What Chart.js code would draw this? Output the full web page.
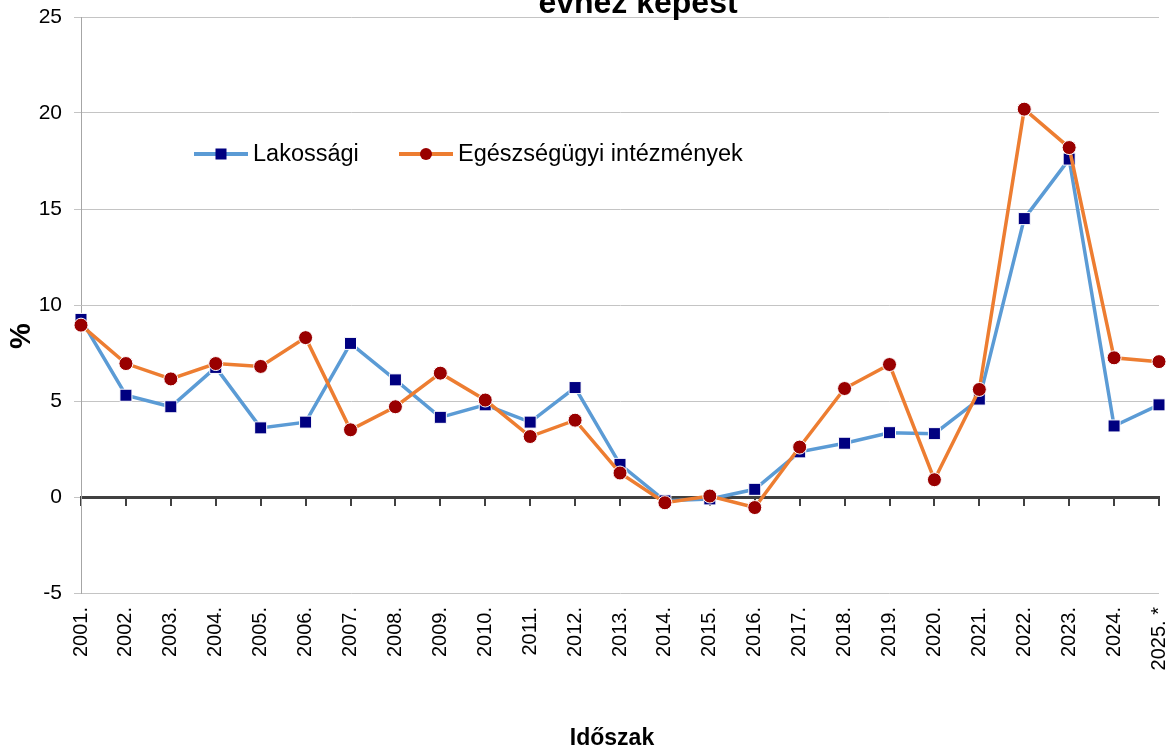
<!DOCTYPE html>
<html>
<head>
<meta charset="utf-8">
<script src="https://cdn.jsdelivr.net/npm/chart.js@4.4.1/dist/chart.umd.min.js"></script>
<style>
    html, body { margin: 0; padding: 0; background: #fff; }
    #wrap { width: 1171px; height: 749px; position: relative; }
</style>
</head>
<body>
<div id="wrap"><canvas id="arChart"></canvas></div>
<script>
// Year-on-year change (%)
const years = ['2001.', '2002.', '2003.', '2004.', '2005.', '2006.', '2007.', '2008.', '2009.', '2010.',
    '2011.', '2012.', '2013.', '2014.', '2015.', '2016.', '2017.', '2018.', '2019.', '2020.',
    '2021.', '2022.', '2023.', '2024.', '2025. *'];
const lakossagi = [9.25, 5.3, 4.7, 6.75, 3.6, 3.9, 8.0, 6.1, 4.15, 4.8, 3.9, 5.7, 1.7, -0.2, -0.1,
    0.4, 2.35, 2.8, 3.35, 3.3, 5.1, 14.5, 17.6, 3.7, 4.8];
const intezmenyek = [8.95, 6.95, 6.15, 6.95, 6.8, 8.3, 3.5, 4.7, 6.45, 5.05, 3.15, 4.0, 1.25, -0.3, 0.05,
    -0.55, 2.6, 5.65, 6.9, 0.9, 5.6, 20.2, 18.2, 7.25, 7.05];
const seriesNames = ['Lakossági', 'Egészségügyi intézmények'];
const yTicks = { min: -5, max: 25, step: 5 };

const chartTitle = 'évhez képest';
const xTitle = 'Időszak';
const yTitle = '%';

const FONT = "'Liberation Sans', Arial, sans-serif";

// titles and the in-plot legend are drawn by hand, like the original Excel layout
const decorations = {
    id: 'decorations',
    afterDraw(chart) {
        const ctx = chart.ctx;
        const area = chart.chartArea;
        ctx.save();
        ctx.fillStyle = '#000';

        // top title, only its last line is visible
        ctx.font = 'bold 32px ' + FONT;
        ctx.textAlign = 'center';
        ctx.textBaseline = 'alphabetic';
        ctx.fillText(chartTitle, 638, 13);

        // x axis title
        ctx.font = 'bold 23px ' + FONT;
        ctx.fillText(xTitle, 612, 745);

        // y axis title
        ctx.save();
        ctx.translate(22, 336);
        ctx.rotate(-Math.PI / 2);
        ctx.font = 'bold 29px ' + FONT;
        ctx.textBaseline = 'middle';
        ctx.fillText(yTitle, 0, 0);
        ctx.restore();

        // legend
        const ly = 154;
        const items = [
            { x: 194, ds: chart.data.datasets[0] },
            { x: 399, ds: chart.data.datasets[1] }
        ];
        ctx.font = '23.5px ' + FONT;
        ctx.textAlign = 'left';
        ctx.textBaseline = 'middle';
        items.forEach(item => {
            const ds = item.ds;
            ctx.strokeStyle = ds.borderColor;
            ctx.lineWidth = 4;
            ctx.beginPath();
            ctx.moveTo(item.x, ly);
            ctx.lineTo(item.x + 54, ly);
            ctx.stroke();
            ctx.fillStyle = ds.pointBackgroundColor;
            if (ds.pointStyle === 'rect') {
                ctx.fillRect(item.x + 27 - 5.5, ly - 5.5, 11, 11);
            } else {
                ctx.beginPath();
                ctx.arc(item.x + 27, ly, 6, 0, Math.PI * 2);
                ctx.fill();
            }
            ctx.fillStyle = '#000';
            ctx.fillText(ds.label, item.x + 59, ly + 1);
        });
        ctx.restore();
    }
};

const ctx = document.getElementById('arChart').getContext('2d');
new Chart(ctx, {
    type: 'line',
    data: {
        labels: years,
        datasets: [{
            label: seriesNames[0],
            data: lakossagi,
            borderColor: '#5B9BD5',
            borderWidth: 3.5,
            pointStyle: 'rect',
            pointRadius: 8.5,
            pointHoverRadius: 8.5,
            pointBackgroundColor: '#000080',
            pointBorderColor: '#ffffff',
            pointBorderWidth: 1,
            tension: 0,
            clip: false,
            order: 2
        }, {
            label: seriesNames[1],
            data: intezmenyek,
            borderColor: '#ED7D31',
            borderWidth: 3.5,
            pointStyle: 'circle',
            pointRadius: 7,
            pointHoverRadius: 7,
            pointBackgroundColor: '#990000',
            pointBorderColor: '#ffffff',
            pointBorderWidth: 1,
            tension: 0,
            clip: false,
            order: 1
        }]
    },
    options: {
        responsive: true,
        maintainAspectRatio: false,
        animation: false,
        layout: {
            padding: { top: 17, right: 12, left: 0, bottom: 0 }
        },
        scales: {
            x: {
                type: 'category',
                position: 'bottom',
                offset: false,
                border: { display: false },
                grid: { display: false, drawTicks: false },
                ticks: {
                    autoSkip: false,
                    minRotation: 90,
                    maxRotation: 90,
                    padding: 14,
                    color: '#000',
                    font: { family: FONT, size: 20 }
                },
                afterFit(scale) {
                    scale.height = 156;
                    scale.paddingLeft = 0;
                    scale.paddingRight = 0;
                }
            },
            // the dark axis line crossing at zero, with its tick marks
            xZero: {
                type: 'category',
                position: { y: 0 },
                offset: false,
                border: { display: true, color: '#404040', width: 3 },
                grid: {
                    drawOnChartArea: false,
                    drawTicks: true,
                    tickLength: 7,
                    color: '#404040',
                    lineWidth: 2
                },
                ticks: { display: false },
                afterFit(scale) {
                    scale.paddingLeft = 0;
                    scale.paddingRight = 0;
                }
            },
            y: {
                min: yTicks.min,
                max: yTicks.max,
                border: { display: true, color: '#a6a6a6', width: 1 },
                grid: {
                    color: '#c4c4c4',
                    lineWidth: 1,
                    drawTicks: true,
                    tickLength: 7
                },
                ticks: {
                    stepSize: yTicks.step,
                    padding: 12,
                    color: '#000',
                    font: { family: FONT, size: 21 }
                },
                afterFit(scale) {
                    scale.width = 81;
                    scale.paddingTop = 0;
                    scale.paddingBottom = 0;
                }
            }
        },
        plugins: {
            legend: { display: false },
            title: { display: false },
            tooltip: { enabled: false }
        }
    },
    plugins: [decorations]
});
</script>
</body>
</html>
